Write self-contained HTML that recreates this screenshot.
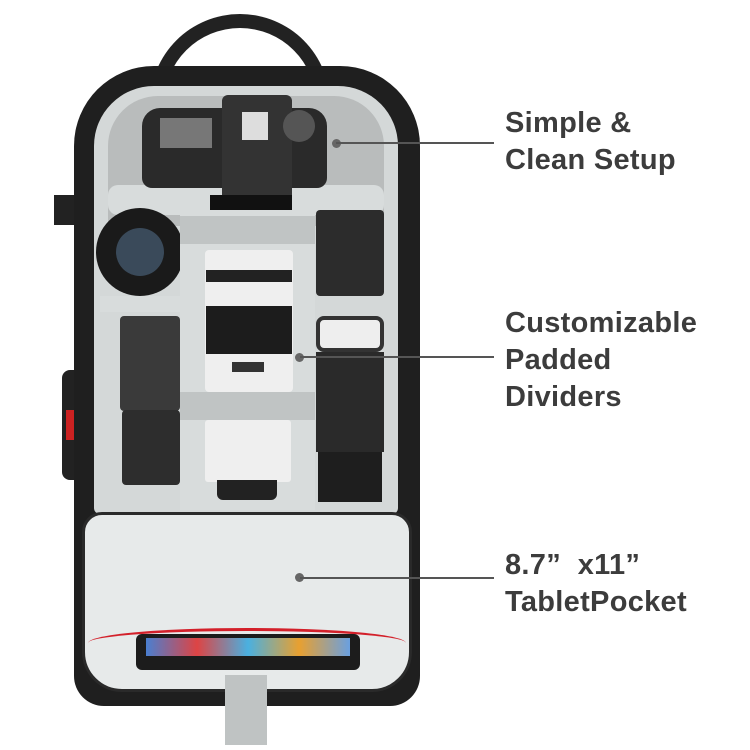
<!DOCTYPE html>
<html><head><style>
body{margin:0;background:#fff;}
#c{position:relative;width:750px;height:750px;overflow:hidden;background:#fff;font-family:"Liberation Sans",sans-serif;}
.a{position:absolute;}
.t{position:absolute;left:505px;font-weight:bold;font-size:29px;color:#3c3c3c;line-height:37px;letter-spacing:0.3px;}
.ln{position:absolute;height:2px;background:#555;}
.dot{position:absolute;width:9px;height:9px;border-radius:50%;background:#666;}
</style></head><body><div id="c">
<div class="a" style="left:150px;top:14px;width:180px;height:90px;border:14px solid #222;border-bottom:none;border-radius:90px 90px 0 0;box-sizing:border-box;"></div>
<div class="a" style="left:54px;top:195px;width:26px;height:30px;background:#222;"></div>
<div class="a" style="left:62px;top:370px;width:20px;height:110px;background:#222;border-radius:8px;"></div>
<div class="a" style="left:66px;top:410px;width:8px;height:30px;background:#c22;"></div>
<div class="a" style="left:74px;top:66px;width:346px;height:640px;background:#1f1f1f;border-radius:80px 80px 30px 30px;"></div>
<div class="a" style="left:94px;top:86px;width:304px;height:428px;background:#d4d8d8;border-radius:60px 60px 6px 6px;"></div>
<div class="a" style="left:108px;top:96px;width:276px;height:130px;background:#b9bcbc;border-radius:50px 50px 0 0;"></div>
<div class="a" style="left:108px;top:185px;width:276px;height:30px;background:#d8dcdc;border-radius:10px;"></div>
<div class="a" style="left:142px;top:108px;width:185px;height:80px;background:#2a2a2a;border-radius:18px 18px 10px 10px;"></div>
<div class="a" style="left:222px;top:95px;width:70px;height:110px;background:#333;border-radius:6px;"></div>
<div class="a" style="left:242px;top:112px;width:26px;height:28px;background:#ddd;"></div>
<div class="a" style="left:160px;top:118px;width:52px;height:30px;background:#777;"></div>
<div class="a" style="left:283px;top:110px;width:32px;height:32px;background:#555;border-radius:50%;"></div>
<div class="a" style="left:210px;top:195px;width:82px;height:20px;background:#111;"></div>
<div class="a" style="left:96px;top:208px;width:88px;height:88px;background:#1a1a1a;border-radius:50%;"></div>
<div class="a" style="left:116px;top:228px;width:48px;height:48px;background:#3a4a5a;border-radius:50%;"></div>
<div class="a" style="left:100px;top:296px;width:82px;height:16px;background:#d8dcdc;"></div>
<div class="a" style="left:120px;top:316px;width:60px;height:95px;background:#3a3a3a;border-radius:4px;"></div>
<div class="a" style="left:122px;top:410px;width:58px;height:75px;background:#2d2d2d;border-radius:4px;"></div>
<div class="a" style="left:180px;top:210px;width:135px;height:300px;background:#d8dcdc;"></div>
<div class="a" style="left:180px;top:216px;width:135px;height:28px;background:#c0c4c4;"></div>
<div class="a" style="left:180px;top:392px;width:135px;height:28px;background:#c0c4c4;"></div>
<div class="a" style="left:205px;top:250px;width:88px;height:142px;background:#efefef;border-radius:4px;"></div>
<div class="a" style="left:206px;top:270px;width:86px;height:12px;background:#222;"></div>
<div class="a" style="left:206px;top:306px;width:86px;height:48px;background:#1c1c1c;"></div>
<div class="a" style="left:232px;top:362px;width:32px;height:10px;background:#333;"></div>
<div class="a" style="left:205px;top:420px;width:86px;height:62px;background:#efefef;border-radius:3px;"></div>
<div class="a" style="left:217px;top:480px;width:60px;height:20px;background:#222;border-radius:0 0 6px 6px;"></div>
<div class="a" style="left:316px;top:210px;width:68px;height:86px;background:#2c2c2c;border-radius:4px;"></div>
<div class="a" style="left:316px;top:316px;width:68px;height:36px;background:#eee;border-radius:8px;border:4px solid #333;box-sizing:border-box;"></div>
<div class="a" style="left:316px;top:352px;width:68px;height:100px;background:#2a2a2a;"></div>
<div class="a" style="left:318px;top:452px;width:64px;height:50px;background:#1e1e1e;"></div>
<div class="a" style="left:82px;top:512px;width:330px;height:180px;background:#e7eaea;border-radius:20px 20px 40px 40px;border:3px solid #2a2a2a;box-sizing:border-box;"></div>
<div class="a" style="left:88px;top:628px;width:318px;height:12px;border-top:3px solid #d3202a;border-radius:50% 50% 0 0/100% 100% 0 0;"></div>
<div class="a" style="left:136px;top:634px;width:224px;height:36px;background:#1c1c1c;border-radius:6px;"></div>
<div class="a" style="left:146px;top:638px;width:204px;height:18px;background:linear-gradient(90deg,#4a7fd0,#d44,#4ab0e0,#e8a030,#6aa0e0);"></div>
<div class="a" style="left:225px;top:675px;width:42px;height:70px;background:#bfc3c3;"></div>
<div class="dot" style="left:332px;top:139px;"></div>
<div class="ln" style="left:336px;top:142px;width:158px;"></div>
<div class="t" style="top:105px;">Simple &amp;<br>Clean Setup</div>
<div class="dot" style="left:295px;top:353px;"></div>
<div class="ln" style="left:300px;top:356px;width:194px;"></div>
<div class="t" style="top:305px;">Customizable<br>Padded<br>Dividers</div>
<div class="dot" style="left:295px;top:573px;"></div>
<div class="ln" style="left:300px;top:577px;width:194px;"></div>
<div class="t" style="top:547px;">8.7” &nbsp;x11”<br>TabletPocket</div>
</div></body></html>
